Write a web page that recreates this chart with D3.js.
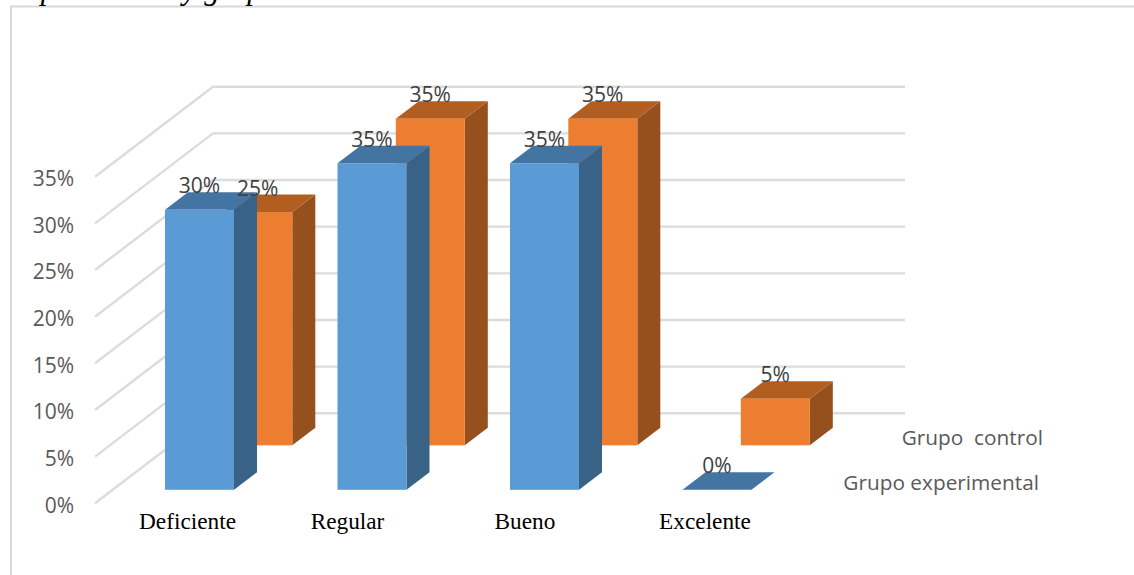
<!DOCTYPE html>
<html>
<head>
<meta charset="utf-8">
<script src="https://d3js.org/d3.v7.min.js"></script>
<style>
    html, body { margin: 0; padding: 0; background: #fff; overflow: hidden; }
    svg { display: block; }
</style>
</head>
<body>
<div id="chart"></div>
<script>
// Chart data
var categories = ["Deficiente", "Regular", "Bueno", "Excelente"];
var seriesNames = ["Grupo experimental", "Grupo  control"];
var experimental = [30, 35, 35, 0];
var control = [25, 35, 35, 5];
var tickValues = [0, 5, 10, 15, 20, 25, 30, 35];

var svgWidth = 1134;
var svgHeight = 575;

var svg = d3.select("#chart")
    .append("svg")
    .attr("width", svgWidth)
    .attr("height", svgHeight);

// Fake 3D: the floor runs back from the front edge along this slant
var floorLeft = 95;
var floorBottom = 503.3;
var depthX = 118;
var depthY = -90;
var wallRight = 905;

var yScale = d3.scaleLinear().domain([0, 35]).range([floorBottom, 176.7]);
var xScale = d3.scaleBand().domain(categories).range([147.3, 837.3]);

var barWidth = 69;
var barDepth = 0.195;

// category labels were hand placed, not centred on their slots
var labelNudge = [0, -12.5, -7.5, 0];

function px(x, depth) {
    return x + depth * depthX;
}
function py(value, depth) {
    return yScale(value) + depth * depthY;
}
function poly(points) {
    return points.map(function(p) { return p.join(","); }).join(" ");
}

// Chart frame
svg.append("path")
    .attr("d", "M11,575V6.5H1134")
    .attr("fill", "none")
    .attr("stroke", "#d9d9d9")
    .attr("stroke-width", 2);

// Caption above the frame, cut by the top of the page
svg.append("text")
    .attr("x", 8)
    .attr("y", -1.5)
    .attr("font-family", "Liberation Serif")
    .attr("font-style", "italic")
    .attr("font-size", 31)
    .attr("fill", "#000")
    .text("Experimental y grupo");

// Gridlines on the side wall and the back wall
var grid = svg.append("g");
tickValues.forEach(function(v) {
    grid.append("polyline")
        .attr("points", poly([
            [px(floorLeft, 0), py(v, 0)],
            [px(floorLeft, 1), py(v, 1)],
            [wallRight, py(v, 1)]
        ]))
        .attr("fill", "none")
        .attr("stroke", "#dcdcdc")
        .attr("stroke-width", 2.4);
});

// Value axis
var yAxis = svg.append("g")
    .attr("transform", "translate(74,2)")
    .call(d3.axisLeft(yScale)
        .tickValues(tickValues)
        .tickSize(0)
        .tickPadding(0)
        .tickFormat(function(d) { return d + "%"; }));
yAxis.select(".domain").remove();
yAxis.selectAll("text")
    .attr("font-family", "Open Sans")
    .attr("font-size", 21)
    .attr("fill", "#595959");

var seriesList = [
    { name: seriesNames[1], values: control, depth: 0.644, front: "#ed7d31", top: "#b35e21", side: "#96501d" },
    { name: seriesNames[0], values: experimental, depth: 0.15, front: "#5b9bd5", top: "#4475a2", side: "#386387" }
];

// Boxes, back row first so the front row overlaps it
seriesList.forEach(function(s) {
    var box = svg.append("g").selectAll("g")
        .data(categories)
        .enter()
        .append("g");

    box.each(function(c, i) {
        var g = d3.select(this);
        var v = s.values[i];
        var xl = px(xScale(c), s.depth);
        var xr = xl + barWidth;
        var sx = barDepth * depthX;
        var sy = barDepth * depthY;

        var yBase = py(0, s.depth);
        var yTop = py(v, s.depth);

        // side face
        g.append("polygon")
            .attr("points", poly([[xr, yBase], [xr + sx, yBase + sy], [xr + sx, yTop + sy], [xr, yTop]]))
            .attr("fill", s.side);
        // top face
        g.append("polygon")
            .attr("points", poly([[xl, yTop], [xl + sx, yTop + sy], [xr + sx, yTop + sy], [xr, yTop]]))
            .attr("fill", s.top);
        // front face
        g.append("rect")
            .attr("x", xl)
            .attr("y", yTop)
            .attr("width", barWidth)
            .attr("height", yBase - yTop)
            .attr("fill", s.front);
    });
});

// Data labels sit above the top faces and are drawn last
seriesList.forEach(function(s) {
    svg.append("g").selectAll("text")
        .data(categories)
        .enter()
        .append("text")
        .attr("x", function(c) {
            return px(xScale(c), s.depth) + barWidth / 2;
        })
        .attr("y", function(c, i) {
            return py(s.values[i], s.depth) + barDepth * depthY + 1;
        })
        .attr("text-anchor", "middle")
        .attr("font-family", "Open Sans")
        .attr("font-size", 21)
        .attr("fill", "#404040")
        .text(function(c, i) { return s.values[i] + "%"; });
});

// Category labels
svg.append("g").selectAll("text")
    .data(categories)
    .enter()
    .append("text")
    .attr("x", function(c, i) { return xScale(c) + 40.2 + labelNudge[i]; })
    .attr("y", 529)
    .attr("text-anchor", "middle")
    .attr("font-family", "Liberation Serif")
    .attr("font-size", 23.3)
    .attr("fill", "#000")
    .text(function(c) { return c; });

// Series names to the right of the bars
svg.append("text")
    .attr("x", 1043)
    .attr("y", 445)
    .attr("text-anchor", "end")
    .attr("font-family", "Open Sans")
    .attr("font-size", 20.8)
    .attr("fill", "#595959")
    .style("white-space", "pre")
    .text(seriesNames[1]);

svg.append("text")
    .attr("x", 1039)
    .attr("y", 490)
    .attr("text-anchor", "end")
    .attr("font-family", "Open Sans")
    .attr("font-size", 20.8)
    .attr("fill", "#595959")
    .text(seriesNames[0]);
</script>
</body>
</html>
